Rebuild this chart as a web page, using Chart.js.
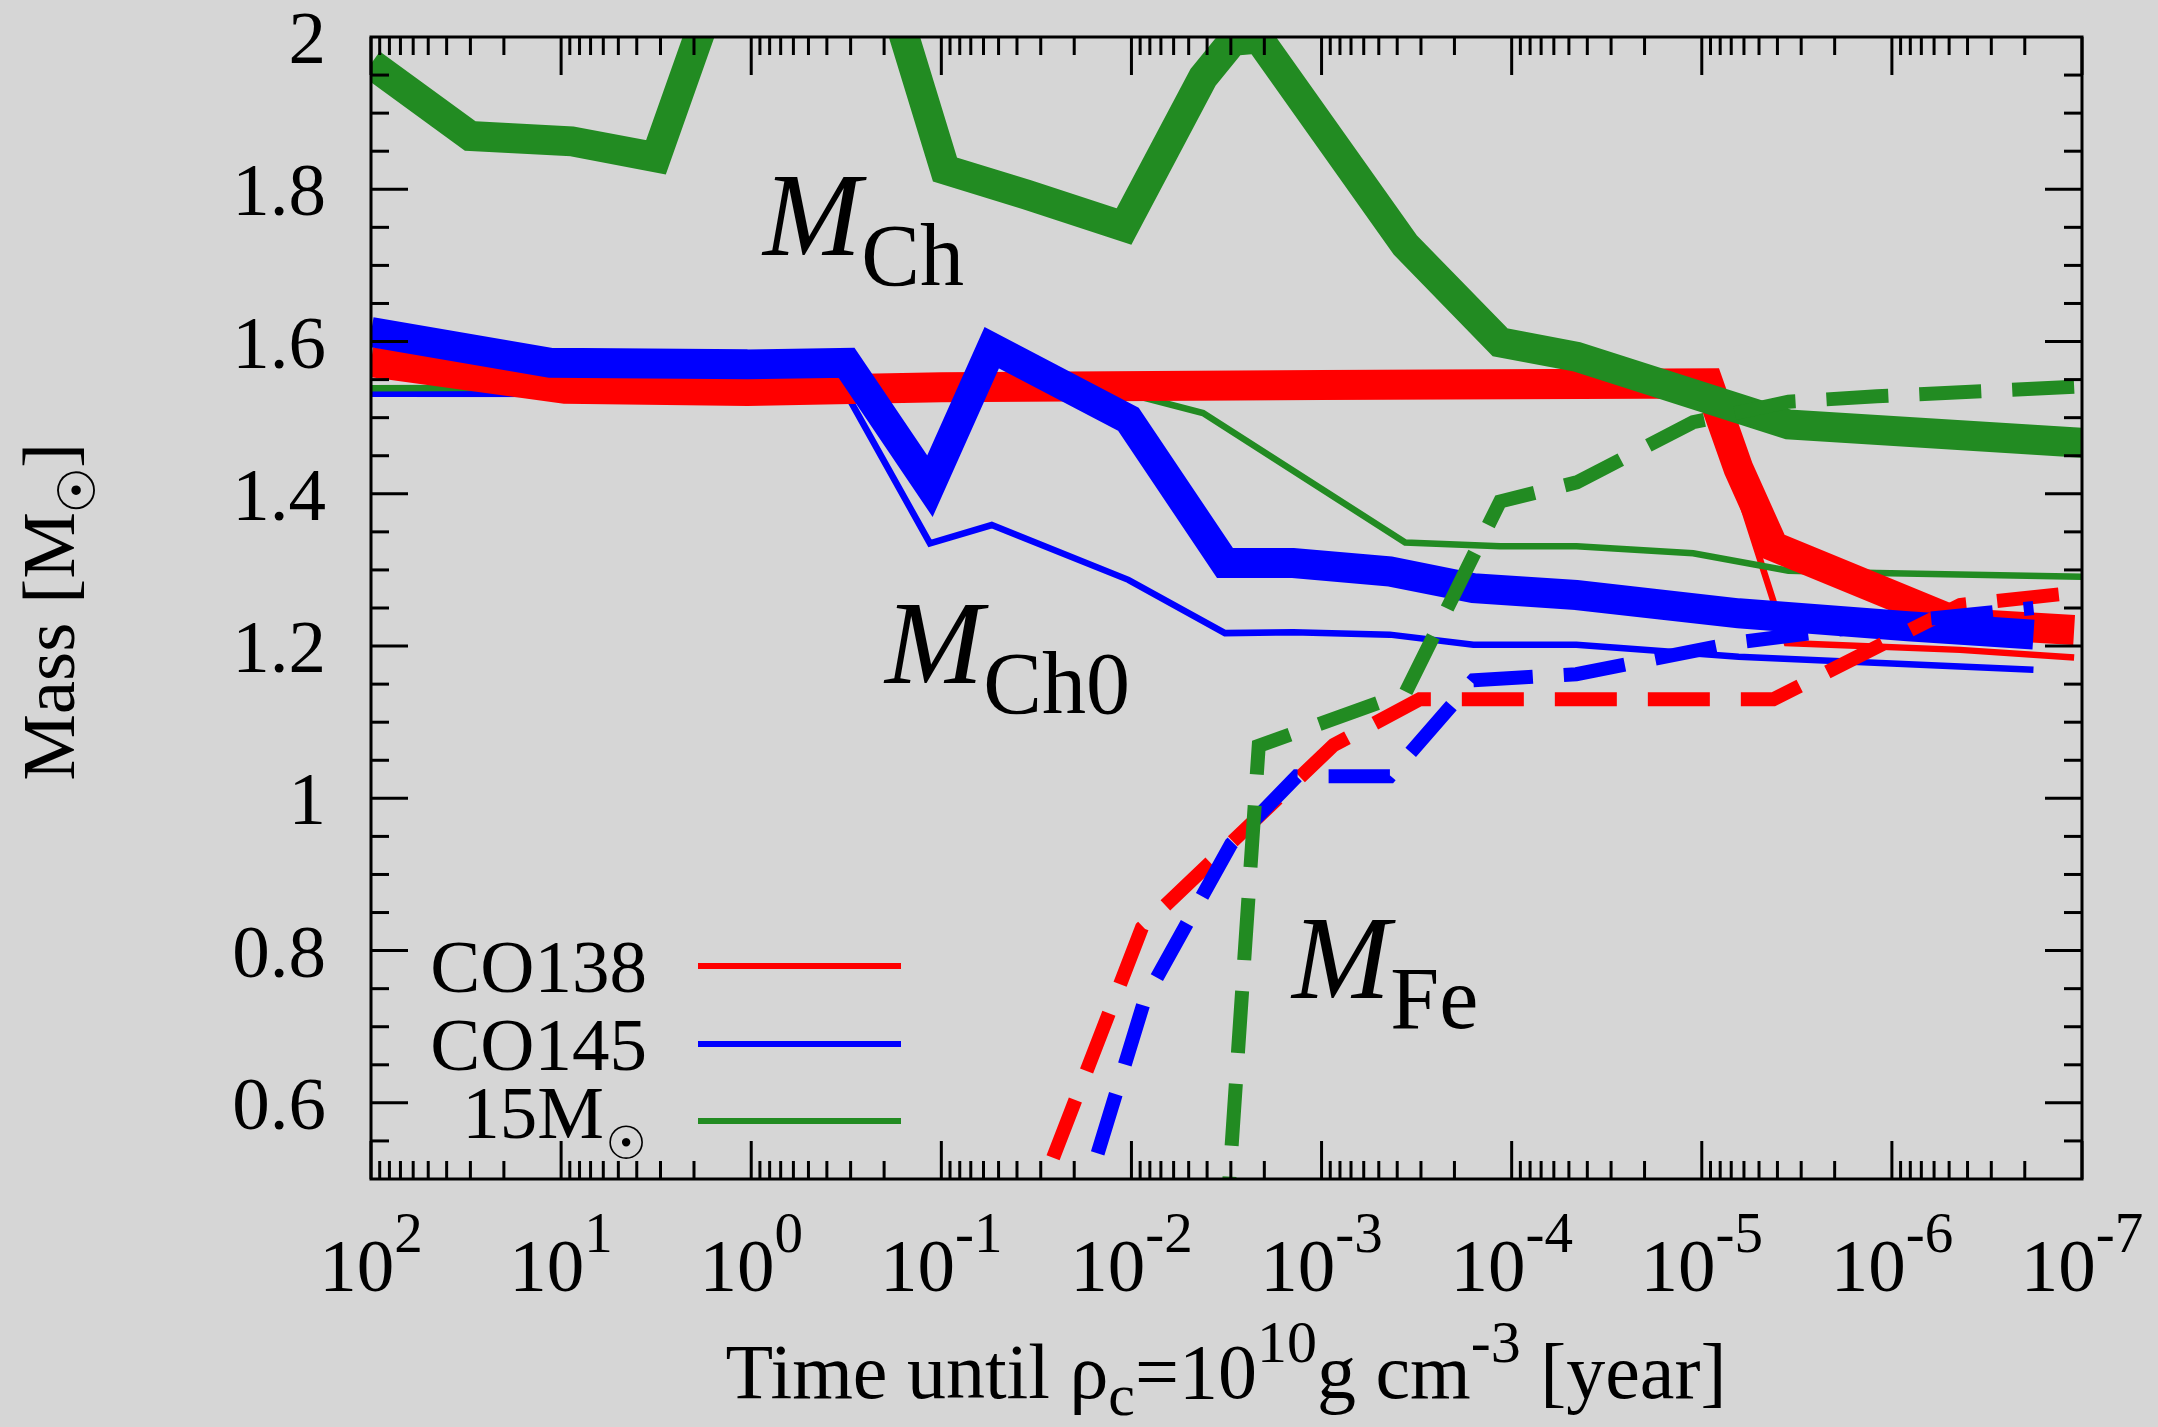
<!DOCTYPE html>
<html>
<head>
<meta charset="utf-8">
<script src="https://cdn.jsdelivr.net/npm/chart.js@4/dist/chart.umd.min.js"></script>
<style>
  html, body { margin: 0; padding: 0; background: #d6d6d6; }
  #chart { display: block; }
</style>
</head>
<body>
<canvas id="chart" width="2158" height="1427"></canvas>
<script>
// time until rho_c = 1e10 g/cm^3 [year] vs mass [Msun]
const decades = [2, 1, 0, -1, -2, -3, -4, -5, -6, -7];
const massTicks = [0.6, 0.8, 1, 1.2, 1.4, 1.6, 1.8, 2];
const massTickLabels = ['0.6', '0.8', '1', '1.2', '1.4', '1.6', '1.8', '2'];
const massMinorStep = 0.05;

// CO138
const co138ChTime  = [100, 9.55, 1.047, 0.1, 1.0e-3, 9.23e-6, 6.41e-6, 4.20e-6, 4.38e-7, 1.10e-7];
const co138ChMass  = [1.573, 1.538, 1.535, 1.540, 1.543, 1.545, 1.433, 1.331, 1.230, 1.221];
const co138Ch0Time = [100, 9.55, 9.77e-6, 3.57e-6, 4.38e-7, 1.10e-7];
const co138Ch0Mass = [1.565, 1.537, 1.545, 1.204, 1.195, 1.185];
const co138FeTime  = [0.0582, 8.81e-3, 8.63e-4, 3.05e-4, 4.20e-6, 4.38e-7, 1.10e-7];
const co138FeMass  = [0.30, 0.830, 1.070, 1.130, 1.130, 1.254, 1.270];

// CO145
const co145ChTime  = [100, 11.43, 1.047, 0.315, 0.1148, 0.0543, 0.01038, 3.22e-3, 1.41e-3, 4.37e-4, 1.59e-4, 4.57e-5, 6.40e-6, 8.22e-7, 1.80e-7];
const co145ChMass  = [1.6125, 1.572, 1.570, 1.572, 1.410, 1.592, 1.498, 1.309, 1.309, 1.298, 1.276, 1.267, 1.243, 1.226, 1.215];
const co145Ch0Time = [100, 0.315, 0.1148, 0.0543, 0.01038, 3.22e-3, 1.41e-3, 4.37e-4, 1.59e-4, 4.57e-5, 6.40e-6, 1.80e-7];
const co145Ch0Mass = [1.5315, 1.531, 1.335, 1.359, 1.287, 1.217, 1.218, 1.215, 1.2017, 1.2017, 1.186, 1.169];
const co145FeTime  = [0.0291, 8.51e-3, 2.99e-3, 1.35e-3, 4.37e-4, 1.59e-4, 4.57e-5, 6.40e-6, 8.22e-7, 1.80e-7];
const co145FeMass  = [0.30, 0.736, 0.940, 1.029, 1.029, 1.155, 1.163, 1.205, 1.233, 1.250];

// 15 Msun
const m15ChTime  = [100, 30.1, 8.79, 3.17, 0.497, 0.0957, 0.0356, 0.01094, 4.20e-3, 2.93e-3, 2.14e-3, 3.63e-4, 1.15e-4, 4.55e-5, 3.50e-6, 1.0e-7];
const m15ChMass  = [1.965, 1.870, 1.863, 1.842, 2.41, 1.826, 1.793, 1.751, 1.947, 1.995, 1.998, 1.727, 1.599, 1.580, 1.491, 1.467];
const m15Ch0Time = [100, 3.17, 0.0957, 0.01094, 4.20e-3, 3.63e-4, 1.15e-4, 4.55e-5, 1.11e-5, 3.50e-6, 1.20e-6, 1.0e-7];
const m15Ch0Mass = [1.5385, 1.540, 1.540, 1.533, 1.506, 1.336, 1.331, 1.331, 1.322, 1.299, 1.296, 1.291];
const m15FeTime  = [3.46e-3, 2.14e-3, 3.63e-4, 1.15e-4, 4.55e-5, 1.11e-5, 3.50e-6, 1.20e-6, 1.0e-7];
const m15FeMass  = [0.30, 1.069, 1.138, 1.390, 1.415, 1.494, 1.521, 1.528, 1.541];

const RED = '#ff0000', BLUE = '#0000ff', GREEN = '#228b22';
const THICK = 30, THIN = 6.5, DASHW = 14, DASH = [62, 31];
const SERIF = '"Liberation Serif", "Times New Roman", serif';
const SYM = '"DejaVu Sans", sans-serif';

function series(label, times, masses, color, width, dash, order) {
    return {
        label: label,
        order: order,
        data: times.map((t, i) => ({ x: t, y: masses[i] })),
        borderColor: color,
        borderWidth: width,
        borderDash: dash || [],
        borderJoinStyle: 'miter',
        pointRadius: 0,
        tension: 0,
        fill: false
    };
}

// draws pieces of text one after another, [text, font, dy]
function runWidth(ctx, parts) {
    let w = 0;
    parts.forEach(p => { ctx.font = p[1]; w += ctx.measureText(p[0]).width; });
    return w;
}
function runText(ctx, parts, x, y) {
    let cx = x;
    parts.forEach(p => {
        ctx.font = p[1];
        ctx.fillText(p[0], cx, y + p[2]);
        cx += ctx.measureText(p[0]).width;
    });
    return cx;
}

function tick(ctx, x1, y1, x2, y2) {
    ctx.beginPath();
    ctx.moveTo(x1, y1);
    ctx.lineTo(x2, y2);
    ctx.stroke();
}

const framePlugin = {
    id: 'frame',
    afterDraw(chart) {
        const ctx = chart.ctx;
        const a = chart.chartArea;
        const xs = chart.scales.x, ys = chart.scales.y;
        ctx.save();
        ctx.strokeStyle = '#000';
        ctx.fillStyle = '#000';
        ctx.lineWidth = 3;
        ctx.lineCap = 'butt';

        // x ticks, top and bottom
        decades.forEach(e => {
            for (let m = 1; m <= 9; m++) {
                const v = m * Math.pow(10, e);
                if (v > 100.0001 || v < 0.9999e-7) continue;
                const px = xs.getPixelForValue(v);
                const len = m === 1 ? 38 : 18;
                tick(ctx, px, a.bottom, px, a.bottom - len);
                tick(ctx, px, a.top, px, a.top + len);
            }
        });
        // y ticks, left and right
        for (let v = 0.55; v < 2.0; v += massMinorStep) {
            const py = ys.getPixelForValue(v);
            const major = massTicks.some(t => Math.abs(t - v) < 1e-6);
            const len = major ? 37 : 18;
            tick(ctx, a.left, py, a.left + len, py);
            tick(ctx, a.right, py, a.right - len, py);
        }
        ctx.strokeRect(a.left, a.top, a.right - a.left, a.bottom - a.top);

        // y tick labels
        ctx.textBaseline = 'alphabetic';
        ctx.font = '75px ' + SERIF;
        ctx.textAlign = 'right';
        massTicks.forEach((v, i) => {
            ctx.fillText(massTickLabels[i], 326, ys.getPixelForValue(v) + 26);
        });

        // x tick labels, 10^e
        ctx.textAlign = 'left';
        decades.forEach(e => {
            const parts = [['10', '75px ' + SERIF, 0], [String(e), '57px ' + SERIF, -39]];
            const w = runWidth(ctx, parts);
            runText(ctx, parts, xs.getPixelForValue(Math.pow(10, e)) - w / 2, 1291);
        });

        // x title
        const xt = [
            ['Time until \u03c1', '78px ' + SERIF, 0],
            ['c', '60px ' + SERIF, 17],
            ['=10', '78px ' + SERIF, 0],
            ['10', '60px ' + SERIF, -36],
            ['g cm', '78px ' + SERIF, 0],
            ['-3', '60px ' + SERIF, -36],
            [' [year]', '78px ' + SERIF, 0]
        ];
        runText(ctx, xt, 1226 - runWidth(ctx, xt) / 2, 1398);

        // y title, rotated
        ctx.save();
        ctx.translate(74, 612);
        ctx.rotate(-Math.PI / 2);
        const yt1 = [['Mass [M', '75px ' + SERIF, 0]];
        const sunW = 44;
        const yt2 = [[']', '75px ' + SERIF, 0]];
        const tw = runWidth(ctx, yt1) + sunW + runWidth(ctx, yt2);
        let cx = runText(ctx, yt1, -tw / 2, 0);
        ctx.font = '52px ' + SYM;
        ctx.textAlign = 'center';
        ctx.textBaseline = 'middle';
        ctx.fillText('\u2609', cx + sunW / 2, 7);
        ctx.textAlign = 'left';
        ctx.textBaseline = 'alphabetic';
        runText(ctx, yt2, cx + sunW, 0);
        ctx.restore();

        // legend
        const legend = [
            ['CO138', RED, 992, 966],
            ['CO145', BLUE, 1070, 1044],
            ['15M', GREEN, 1138, 1121]
        ];
        legend.forEach(item => {
            ctx.font = '75px ' + SERIF;
            ctx.textAlign = 'right';
            ctx.fillStyle = '#000';
            if (item[0] === '15M') {
                ctx.fillText(item[0], 604, item[2]);
                ctx.font = '46px ' + SYM;
                ctx.textAlign = 'center';
                ctx.textBaseline = 'middle';
                ctx.fillText('\u2609', 626, item[2] + 9);
                ctx.textBaseline = 'alphabetic';
            } else {
                ctx.fillText(item[0], 647, item[2]);
            }
            ctx.strokeStyle = item[1];
            ctx.lineWidth = 6;
            tick(ctx, 698, item[3], 901, item[3]);
        });

        // curve labels
        ctx.textAlign = 'left';
        ctx.fillStyle = '#000';
        const labels = [
            [763, 255, 'Ch'],
            [885, 683, 'Ch0'],
            [1292, 998, 'Fe']
        ];
        labels.forEach(l => {
            runText(ctx, [['M', 'italic 118px ' + SERIF, 0], [l[2], '88px ' + SERIF, 30]], l[0], l[1]);
        });
        ctx.restore();
    }
};

new Chart(document.getElementById('chart'), {
    type: 'line',
    data: {
        datasets: [
            series('CO138 MCh0', co138Ch0Time, co138Ch0Mass, RED, THIN, null, 9),
            series('CO145 MCh0', co145Ch0Time, co145Ch0Mass, BLUE, THIN, null, 8),
            series('15M MCh0', m15Ch0Time, m15Ch0Mass, GREEN, THIN, null, 7),
            series('CO138 MCh', co138ChTime, co138ChMass, RED, THICK, null, 6),
            series('CO145 MCh', co145ChTime, co145ChMass, BLUE, THICK, null, 5),
            series('15M MCh', m15ChTime, m15ChMass, GREEN, THICK, null, 4),
            series('CO138 MFe', co138FeTime, co138FeMass, RED, DASHW, DASH, 3),
            series('CO145 MFe', co145FeTime, co145FeMass, BLUE, DASHW, DASH, 2),
            series('15M MFe', m15FeTime, m15FeMass, GREEN, DASHW, DASH, 1)
        ]
    },
    options: {
        responsive: false,
        animation: false,
        devicePixelRatio: 1,
        events: [],
        layout: { padding: { left: 371, top: 37, right: 76, bottom: 248 } },
        plugins: { legend: { display: false }, tooltip: { enabled: false } },
        scales: {
            x: { type: 'logarithmic', reverse: true, min: 1e-7, max: 100, display: false },
            y: { type: 'linear', min: 0.5, max: 2, display: false }
        }
    },
    plugins: [framePlugin]
});
</script>
</body>
</html>
